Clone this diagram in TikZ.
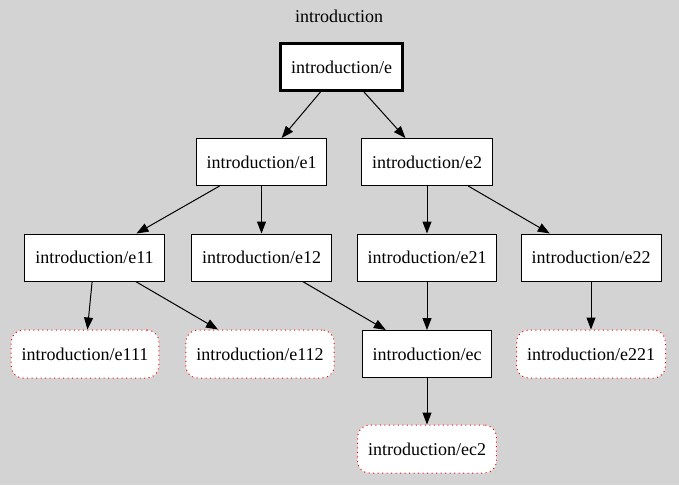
\documentclass[tikz,border=0pt]{standalone}
\usepackage{fontspec}
\setmainfont{Liberation Serif}
\usepackage{xcolor}
\usetikzlibrary{arrows.meta}
\definecolor{bggray}{RGB}{211,211,211}

\begin{document}
\begin{tikzpicture}[>={Triangle[length=12pt,width=9pt]},x=1pt,y=-1pt,
  page/.style={draw,fill=white,line width=1pt,inner xsep=10.5pt,minimum height=47pt,font=\fontsize{18}{20}\selectfont},
  root/.style={page,line width=2.4pt},
  leaf/.style={page,draw=red,rounded corners=12pt,dash pattern=on 1pt off 3.5pt,minimum height=48pt},
  edge/.style={->,line width=1pt}]
% background and cluster title
\fill[bggray] (0,0) rectangle (679,485);
\node[font=\fontsize{18}{20}\selectfont] (title) at (339,16) {introduction};
% first levels
\node[root] (e)   at (341.5,67)  {introduction/e};
\node[page] (e1)  at (261.5,162) {introduction/e1};
\node[page] (e2)  at (427,162)   {introduction/e2};
\node[page] (e11) at (94.5,257.5){introduction/e11};
\node[page] (e12) at (261.5,257.5){introduction/e12};
\node[page] (e21) at (427,257.5) {introduction/e21};
\node[page] (e22) at (591,257.5) {introduction/e22};
% lower level
\node[leaf] (e111) at (85,354)   {introduction/e111};
\node[leaf] (e112) at (260,354)  {introduction/e112};
\node[page] (ec)   at (427,354)  {introduction/ec};
\node[leaf] (e221) at (591,354)  {introduction/e221};
\node[leaf] (ec2)  at (427,449)  {introduction/ec2};
% edges
\draw[edge] (e) -- (e1);
\draw[edge] (e) -- (e2);
\draw[edge] (e1) -- (e11);
\draw[edge] (e1) -- (e12);
\draw[edge] (e2) -- (e21);
\draw[edge] (e2) -- (e22);
\draw[edge] (e11) -- (e111);
\draw[edge] (e11) -- (e112);
\draw[edge] (e12) -- (ec);
\draw[edge] (e21) -- (ec);
\draw[edge] (e22) -- (e221);
\draw[edge] (ec) -- (ec2);
\end{tikzpicture}
\end{document}
